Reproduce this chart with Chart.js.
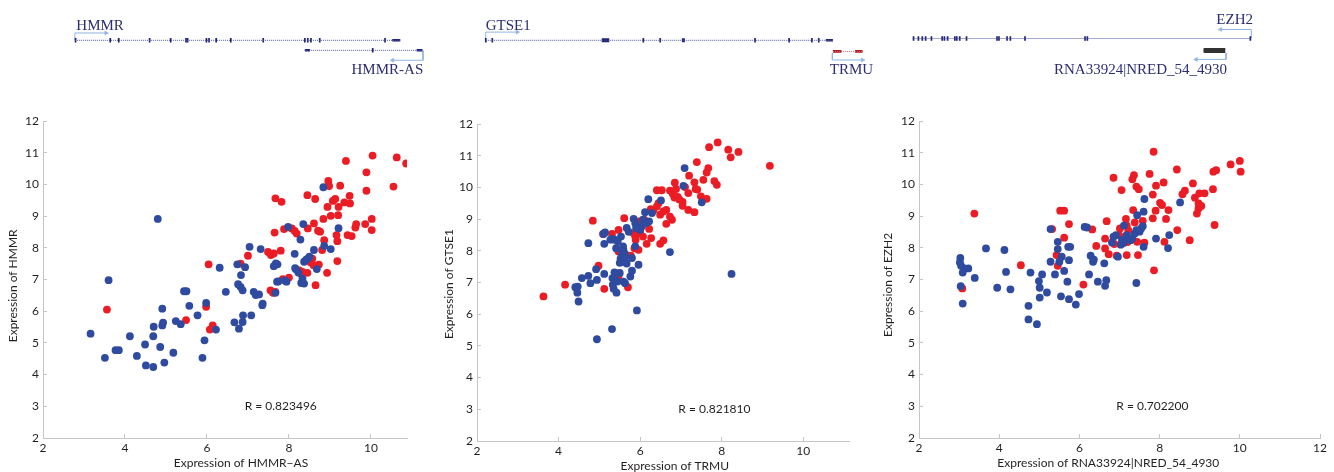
<!DOCTYPE html>
<html>
<head>
<meta charset="utf-8">
<script src="https://cdn.jsdelivr.net/npm/chart.js@4.4.1/dist/chart.umd.min.js"></script>
<style>
html, body { margin:0; padding:0; background:#fff; width:1334px; height:472px; overflow:hidden; }
canvas { position:absolute; }
</style>
</head>
<body>
<canvas id="t1" width="445" height="95" style="left:0px;top:0px"></canvas>
<canvas id="t2" width="445" height="95" style="left:445px;top:0px"></canvas>
<canvas id="t3" width="444" height="95" style="left:890px;top:0px"></canvas>
<canvas id="s1" width="440" height="372" style="left:0px;top:100px"></canvas>
<canvas id="s2" width="440" height="376" style="left:436px;top:100px"></canvas>
<canvas id="s3" width="456" height="372" style="left:878px;top:100px"></canvas>
<script>
// ---- data ----
const yTicks = [2, 3, 4, 5, 6, 7, 8, 9, 10, 11, 12];
const xTicksShort = [2, 4, 6, 8, 10];
const xTicksLong = [2, 4, 6, 8, 10, 12];

// HMMR-AS vs HMMR
const hmmrBlue = [[3.16,5.29],[3.51,4.53],[3.6,6.98],[3.77,4.77],[3.85,4.77],[4.12,5.21],[4.29,4.59],[4.49,4.95],[4.51,4.29],[4.69,5.21],[4.7,5.51],[4.69,4.24],[4.8,8.91],[4.86,4.87],[4.91,5.55],[4.93,5.64],[4.91,6.08],[4.96,4.38],[5.18,4.69],[5.24,5.69],[5.36,5.59],[5.44,6.63],[5.5,6.63],[5.57,6.17],[5.77,5.87],[5.89,4.53],[5.94,5.08],[5.98,6.26],[6.22,5.42],[6.31,7.37],[6.46,6.61],[6.67,5.65],[6.74,7.48],[6.78,5.45],[6.76,6.85],[6.82,6.77],[6.83,7.14],[6.87,6.66],[6.87,5.66],[6.88,5.87],[6.93,7.39],[7.04,8.03],[7.08,5.87],[7.14,6.61],[7.19,6.51],[7.27,6.53],[7.31,7.96],[7.36,6.24],[7.35,6.19],[7.63,7.42],[7.68,7.51],[7.72,7.48],[7.67,6.58],[7.71,6.93],[7.98,8.66],[7.94,6.93],[8.14,7.81],[8.17,7.32],[8.28,8.26],[8.3,6.89],[8.33,7.03],[8.37,6.87],[8.35,8.75],[8.37,7.56],[8.42,7.63],[8.46,7.66],[8.5,7.72],[8.61,7.93],[8.68,7.33],[8.84,9.91],[8.86,8.06],[9.02,7.96],[9.21,8.62],[8.15,7.36],[8.23,7.22],[7.74,6.94],[7.9,6.97]];
const hmmrRed = [[3.56,6.05],[5.49,5.72],[5.98,6.14],[6.04,7.48],[6.07,5.42],[6.14,5.55],[6.82,7.5],[7.0,7.75],[7.49,7.87],[7.56,7.77],[7.63,7.82],[7.65,8.48],[7.67,9.56],[7.82,9.45],[7.55,6.66],[7.61,6.58],[7.67,6.61],[7.8,7.91],[7.88,8.59],[8.07,8.61],[8.14,8.53],[8.19,8.45],[7.85,7.01],[8.0,7.06],[8.25,7.29],[8.29,7.19],[8.33,7.24],[8.27,7.22],[8.45,9.66],[8.46,8.61],[8.45,7.21],[8.53,7.54],[8.57,7.66],[8.6,7.45],[8.61,8.77],[8.64,9.54],[8.65,6.82],[8.71,8.54],[8.76,8.51],[8.73,7.47],[8.81,7.93],[8.84,8.91],[8.86,8.24],[8.93,7.21],[8.94,9.29],[8.96,10.11],[8.98,9.95],[9.02,9.01],[9.07,9.48],[9.13,9.54],[9.16,8.4],[9.18,8.21],[9.2,9.03],[9.18,7.58],[9.21,9.29],[9.25,9.96],[9.35,9.43],[9.39,10.74],[9.43,8.4],[9.53,8.37],[9.48,9.64],[9.49,9.4],[9.62,8.64],[9.64,8.75],[9.86,8.75],[9.89,10.38],[9.89,9.8],[10.02,8.91],[10.02,8.56],[10.04,10.91],[10.55,9.93],[10.63,10.85],[10.86,10.66]];

// TRMU vs GTSE1
const gtseBlue = [[4.94,5.21],[5.31,5.53],[5.92,6.12],[8.24,7.27],[4.49,6.4],[4.41,6.85],[4.47,6.87],[4.46,6.68],[4.57,7.14],[4.73,7.21],[4.78,6.98],[4.94,7.08],[4.92,7.42],[4.73,8.24],[5.12,7.27],[5.12,8.22],[5.1,8.53],[5.14,8.58],[5.32,8.37],[5.37,8.35],[5.37,7.32],[5.32,7.14],[5.39,7.08],[5.33,6.93],[5.42,6.68],[5.44,7.03],[5.41,8.08],[5.53,8.45],[5.5,7.62],[5.52,7.75],[5.55,7.85],[5.57,7.95],[5.58,8.14],[5.59,8.03],[5.6,7.65],[5.62,7.78],[5.63,7.9],[5.67,7.6],[5.59,7.03],[5.63,6.98],[5.67,8.72],[5.76,7.19],[5.8,7.37],[5.8,7.77],[5.84,9.01],[5.88,8.87],[5.92,8.77],[5.88,8.14],[5.96,7.56],[6.0,8.66],[6.04,8.77],[6.12,9.22],[6.2,9.63],[6.22,8.93],[6.29,9.19],[6.51,9.59],[6.73,7.96],[7.09,10.61],[7.06,10.05],[7.51,9.53],[6.07,8.98],[6.15,8.88],[5.72,8.6],[5.9,8.72],[5.45,8.3],[5.27,8.35],[5.5,7.3],[5.35,6.8]];
const gtseRed = [[3.63,6.56],[4.16,6.93],[4.84,8.95],[4.98,7.53],[5.12,6.8],[5.09,8.53],[5.31,8.53],[5.47,8.66],[5.61,9.03],[5.47,7.98],[5.43,7.29],[5.47,7.21],[5.7,6.85],[5.77,7.85],[5.84,8.56],[5.88,8.45],[5.89,8.35],[5.86,8.08],[5.96,8.03],[5.98,8.93],[6.04,8.87],[6.1,8.98],[6.0,8.56],[6.07,8.45],[6.16,8.22],[6.22,8.69],[6.27,8.4],[6.26,9.31],[6.33,9.29],[6.41,9.4],[6.45,9.5],[6.41,9.91],[6.53,9.91],[6.49,9.14],[6.57,9.24],[6.64,9.29],[6.49,8.22],[6.57,8.33],[6.64,8.85],[6.73,9.08],[6.78,8.98],[6.73,9.9],[6.8,9.8],[6.85,10.15],[6.88,9.95],[6.92,9.7],[6.96,9.62],[6.84,9.68],[7.04,9.54],[7.04,9.42],[7.1,10.01],[7.2,10.37],[7.18,9.82],[7.18,9.29],[7.33,10.16],[7.4,9.93],[7.36,9.95],[7.33,9.22],[7.39,10.8],[7.49,9.72],[7.55,10.24],[7.63,9.64],[7.63,10.47],[7.67,10.61],[7.69,11.27],[7.82,10.2],[7.88,10.08],[7.9,11.42],[8.16,11.19],[8.22,10.95],[8.41,11.12],[9.18,10.68]];

// RNA33924|NRED_54_4930 vs EZH2
const ezhBlue = [[3.02,7.54],[3.03,7.68],[3.05,7.43],[3.09,7.22],[3.04,6.79],[3.09,6.24],[3.13,7.35],[3.23,7.35],[3.39,7.05],[3.67,7.98],[3.95,6.74],[4.13,7.93],[4.17,7.24],[4.28,6.69],[4.73,6.17],[4.73,5.74],[4.78,7.22],[4.94,5.59],[4.99,6.95],[5.01,6.74],[5.07,7.16],[5.01,6.43],[5.19,6.59],[5.28,8.59],[5.28,7.56],[5.39,7.16],[5.46,8.19],[5.46,7.96],[5.5,7.56],[5.56,7.72],[5.54,6.47],[5.62,7.27],[5.7,6.93],[5.72,8.03],[5.77,8.03],[5.74,6.38],[5.74,7.61],[5.91,6.21],[5.99,6.54],[6.13,8.66],[6.19,8.64],[6.24,7.16],[6.28,7.75],[6.34,7.56],[6.36,7.63],[6.46,6.93],[6.62,7.51],[6.64,6.8],[6.67,6.98],[6.81,8.17],[6.85,8.35],[6.91,8.4],[6.96,7.72],[7.03,8.1],[7.06,8.25],[7.1,8.15],[7.11,8.7],[7.18,8.4],[7.22,8.3],[7.28,8.24],[7.32,8.3],[7.38,8.45],[7.42,8.56],[7.44,9.03],[7.42,6.89],[7.5,8.51],[7.54,8.61],[7.58,8.68],[7.6,9.14],[7.6,8.03],[7.62,9.54],[7.91,8.29],[8.21,7.99],[8.24,8.4],[8.51,9.43]];
const ezhRed = [[3.08,6.72],[3.38,9.08],[4.54,7.45],[5.32,8.59],[5.43,7.77],[5.46,7.43],[5.52,9.17],[5.62,9.17],[5.62,8.32],[5.74,8.75],[6.1,6.84],[6.32,8.58],[6.42,8.06],[6.64,8.29],[6.64,7.98],[6.68,8.84],[6.73,7.8],[6.85,10.21],[6.87,8.12],[6.93,7.75],[7.01,8.61],[6.99,8.4],[7.05,9.82],[7.18,7.77],[7.18,8.7],[7.22,8.55],[7.18,8.4],[7.22,8.25],[7.2,8.18],[7.16,8.91],[7.34,9.19],[7.32,10.16],[7.36,10.29],[7.38,8.8],[7.42,9.93],[7.48,9.85],[7.44,8.19],[7.46,7.77],[7.58,8.85],[7.62,8.16],[7.75,10.33],[7.83,9.68],[7.83,8.93],[7.85,11.03],[7.86,7.29],[7.9,9.17],[7.91,9.96],[8.01,9.42],[8.06,9.35],[8.1,10.06],[8.12,8.19],[8.16,8.91],[8.22,9.19],[8.43,10.47],[8.44,8.56],[8.57,9.69],[8.63,9.8],[8.75,8.24],[8.83,10.03],[8.88,9.58],[8.93,9.08],[8.97,9.24],[8.97,9.4],[8.99,9.72],[9.12,9.72],[9.04,9.32],[9.33,9.85],[9.37,8.72],[9.34,10.4],[9.41,10.45],[9.77,10.63],[10.0,10.74],[10.02,10.4]];

// gene models (track units across each panel)
const hmmrExons = [71.7,107.3,116,147.7,169.3,185,186.7,206,208.7,216,231,264.3,307,310,313.3,322.3,389.3];
const hmmrUtr = [[396.7,405]];
const hmmrAsExons = [376.7];
const hmmrAsBlocks = [[307,312.3],[421.7,427.7]];
const gtseExons = [36,42.7,197.7,215,312.3,347.3,370.7,377.7];
const gtseBlocks = [[155,162.7],[237.3,240.3]];
const gtseUtr = [[385,392.3]];
const trmuBlocks = [[392.3,401],[415,422.7]];
const ezhExons = [18.3,23.3,27.3,30.7,36.7,47.7,50,53.3,60.7,62.7,65.7,72.7,104,106,114.3,117.7,132.7,194.3,196.7,364];
const rnaBlock = [[316,338.3]];

const BLUE = '#2f4ba0';
const RED = '#ec1c24';
const INK = '#231f20';
const AXIS = '#c4c6c8';
const NAVY = '#1e2277';
const DOTS = '#4e52a0';
const ARROW = '#8fb4e3';
const LABEL = '#2b2d70';

// text on the scatter panels, placed through the scales
const notes = {
    id: 'notes',
    afterDraw(chart, args, o) {
        const {ctx, chartArea, scales: {x, y}} = chart;
        ctx.save();
        ctx.fillStyle = INK;
        ctx.font = '12px Lato';
        ctx.textAlign = 'center';
        ctx.textBaseline = 'middle';
        ctx.fillText(o.r, x.getPixelForValue(o.rAt[0]), y.getPixelForValue(o.rAt[1]));
        ctx.fillText(o.xTitle, x.getPixelForValue(o.xTitleAt), chartArea.bottom + 25);
        ctx.translate(chartArea.left - o.yTitleGap, y.getPixelForValue(o.yTitleAt));
        ctx.rotate(-Math.PI / 2);
        ctx.fillText(o.yTitle, 0, 0);
        ctx.restore();
    }
};

function scatterChart(id, blue, red, o) {
    const pts = a => a.map(p => ({x: p[0], y: p[1]}));
    const tickFont = {family: 'Lato', size: 12};
    return new Chart(document.getElementById(id), {
        type: 'scatter',
        data: {
            datasets: [
                {data: pts(blue), backgroundColor: BLUE, borderColor: BLUE, pointRadius: 3.9, borderWidth: 0},
                {data: pts(red), backgroundColor: RED, borderColor: RED, pointRadius: 3.9, borderWidth: 0}
            ]
        },
        options: {
            responsive: false,
            animation: false,
            layout: {padding: {left: 0, top: o.padTop, right: o.padRight, bottom: 0}},
            plugins: {
                legend: {display: false},
                tooltip: {enabled: false},
                notes: o.notes
            },
            scales: {
                x: {
                    type: 'linear', min: 2, max: o.xMax,
                    afterBuildTicks: s => { s.ticks = o.xTicks.map(v => ({value: v})); },
                    afterFit: s => { s.height = o.xH; },
                    border: {color: AXIS},
                    grid: {drawOnChartArea: false, color: AXIS, tickLength: -4},
                    ticks: {color: INK, font: tickFont, padding: 7, maxRotation: 0, autoSkip: false}
                },
                y: {
                    type: 'linear', min: 2, max: 12,
                    afterBuildTicks: s => { s.ticks = yTicks.map(v => ({value: v})); },
                    afterFit: s => { s.width = o.yW; },
                    border: {color: AXIS},
                    grid: {drawOnChartArea: false, color: AXIS, tickLength: -4},
                    ticks: {color: INK, font: tickFont, padding: 8, autoSkip: false}
                }
            }
        },
        plugins: [notes]
    });
}

scatterChart('s1', hmmrBlue, hmmrRed, {
    xMax: 10.88, xTicks: xTicksShort, padTop: 21, padRight: 33, yW: 43, xH: 34,
    notes: {r: 'R = 0.823496', rAt: [7.8, 3], xTitle: 'Expression of HMMR\u2212AS', xTitleAt: 6.83,
            yTitle: 'Expression of HMMR', yTitleAt: 6.8, yTitleGap: 30}
});
scatterChart('s2', gtseBlue, gtseRed, {
    xMax: 11.12, xTicks: xTicksShort, padTop: 24, padRight: 27, yW: 41, xH: 35,
    notes: {r: 'R = 0.821810', rAt: [7.82, 3], xTitle: 'Expression of TRMU', xTitleAt: 6.85,
            yTitle: 'Expression of GTSE1', yTitleAt: 6.95, yTitleGap: 28}
});
scatterChart('s3', ezhBlue, ezhRed, {
    xMax: 12, xTicks: xTicksLong, padTop: 21, padRight: 7, yW: 41, xH: 34,
    notes: {r: 'R = 0.702200', rAt: [7.82, 3], xTitle: 'Expression of RNA33924|NRED_54_4930', xTitleAt: 6.72,
            yTitle: 'Expression of EZH2', yTitleAt: 6.83, yTitleGap: 31}
});

// ---- gene tracks ----
const trackText = {
    id: 'trackText',
    afterDraw(chart, args, o) {
        const {ctx, scales: {x, y}} = chart;
        ctx.save();
        ctx.fillStyle = LABEL;
        ctx.font = '15px "Liberation Serif"';
        ctx.textBaseline = 'middle';
        o.labels.forEach(l => {
            ctx.textAlign = l.align;
            ctx.fillText(l.text, x.getPixelForValue(l.x), y.getPixelForValue(l.y));
        });
        ctx.restore();
    }
};

function trackChart(id, tr) {
    const ds = [];
    const seg = (a, b, row) => [{x: a, y: row}, {x: b, y: row}];
    tr.genes.forEach(g => {
        ds.push({data: seg(g.span[0], g.span[1], g.row), showLine: true, borderColor: g.line, borderWidth: 1, borderDash: [1, 1], pointRadius: 0});
        g.blocks.forEach(b => ds.push({data: seg(b[0], b[1], g.row), showLine: true, borderColor: g.color, borderWidth: g.blockH, borderCapStyle: 'butt', pointRadius: 0}));
        if (g.ticks.length) {
            ds.push({data: g.ticks.map(t => ({x: t, y: g.row})), showLine: false, pointStyle: 'line', pointRotation: 90,
                     pointRadius: 2.2, pointBorderWidth: 1.7, pointBorderColor: g.color, pointBackgroundColor: g.color});
        }
    });
    tr.arrows.forEach(a => {
        ds.push({data: a.pts.map(p => ({x: p[0], y: p[1]})), showLine: true, borderColor: ARROW, borderWidth: 1,
                 pointRadius: [0, 0, 2.4], pointStyle: 'triangle', pointRotation: a.dir === 'right' ? 90 : -90,
                 pointBackgroundColor: ARROW, pointBorderColor: ARROW, pointBorderWidth: 0.5});
    });
    return new Chart(document.getElementById(id), {
        type: 'scatter',
        data: {datasets: ds},
        options: {
            responsive: false,
            animation: false,
            layout: {padding: 0},
            plugins: {legend: {display: false}, tooltip: {enabled: false}, trackText: {labels: tr.labels}},
            scales: {
                x: {type: 'linear', min: 0, max: tr.width, display: false},
                y: {type: 'linear', min: 0, max: 95, reverse: true, display: false}
            }
        },
        plugins: [trackText]
    });
}

trackChart('t1', {
    width: 445,
    genes: [
        {row: 39.3, span: [71, 405], ticks: hmmrExons, blocks: hmmrUtr, blockH: 2.5, color: NAVY, line: DOTS},
        {row: 50.7, span: [307, 428], ticks: hmmrAsExons, blocks: hmmrAsBlocks, blockH: 2.5, color: NAVY, line: DOTS}
    ],
    arrows: [
        {pts: [[71, 39.3], [71, 31], [103, 31]], dir: 'right'},
        {pts: [[428.3, 51], [428.3, 62], [397, 62]], dir: 'left'}
    ],
    labels: [
        {text: 'HMMR', x: 72.5, y: 23, align: 'left'},
        {text: 'HMMR-AS', x: 428.5, y: 73, align: 'right'}
    ]
});

trackChart('t2', {
    width: 445,
    genes: [
        {row: 39.3, span: [36, 392.3], ticks: gtseExons, blocks: gtseBlocks, blockH: 4, color: NAVY, line: DOTS},
        {row: 39.3, span: [385, 392.3], ticks: [], blocks: gtseUtr, blockH: 2.5, color: NAVY, line: DOTS},
        {row: 52, span: [392.3, 422.7], ticks: [], blocks: trmuBlocks, blockH: 2.7, color: '#b0161c', line: '#d06a6a'}
    ],
    arrows: [
        {pts: [[36, 39.3], [36, 30], [68.3, 30]], dir: 'right'},
        {pts: [[391.7, 54.3], [391.7, 61.7], [422.7, 61.7]], dir: 'right'}
    ],
    labels: [
        {text: 'GTSE1', x: 36, y: 23, align: 'left'},
        {text: 'TRMU', x: 389, y: 73, align: 'left'}
    ]
});

trackChart('t3', {
    width: 444,
    genes: [
        {row: 37.3, span: [18.3, 364], ticks: ezhExons, blocks: [], blockH: 2.5, color: NAVY, line: DOTS},
        {row: 51, span: [316, 338.3], ticks: [], blocks: rnaBlock, blockH: 5, color: '#333333', line: '#333333'}
    ],
    arrows: [
        {pts: [[365, 37.3], [365, 27], [333.3, 27]], dir: 'left'},
        {pts: [[339, 54], [339, 61], [308.3, 61]], dir: 'left'}
    ],
    labels: [
        {text: 'EZH2', x: 366.7, y: 16, align: 'right'},
        {text: 'RNA33924|NRED_54_4930', x: 340, y: 73, align: 'right'}
    ]
});
</script>
</body>
</html>
